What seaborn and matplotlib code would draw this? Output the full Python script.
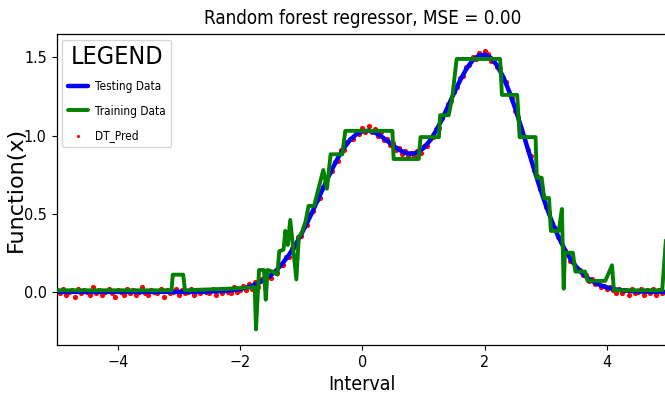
import numpy as np
import matplotlib
matplotlib.use("Agg")
import matplotlib.pyplot as plt
import seaborn as sns

# testing curve, sampled every 0.1 from -5 to 5
test_y = [0.0] * 25 + [
    0.002, 0.003, 0.005, 0.008, 0.012, 0.018, 0.027, 0.039, 0.056, 0.077,
    0.105, 0.141, 0.185, 0.237, 0.298, 0.368, 0.445, 0.528, 0.614, 0.699,
    0.782, 0.857, 0.922, 0.973, 1.008, 1.027, 1.031, 1.020, 0.997, 0.968,
    0.937, 0.909, 0.889, 0.883, 0.892, 0.920, 0.966, 1.028, 1.103, 1.188,
    1.274, 1.356, 1.427, 1.480, 1.512, 1.518, 1.497, 1.449, 1.376, 1.281,
    1.170, 1.048, 0.919, 0.791, 0.667, 0.552, 0.447, 0.355, 0.277, 0.211,
    0.158, 0.116, 0.083, 0.059, 0.041, 0.028, 0.018, 0.012, 0.008, 0.005,
    0.003, 0.002, 0.001, 0.001, 0.000, 0.000,
]
test_x = np.linspace(-5, 5, len(test_y))

# training prediction polyline (vertices)
train_x = [-5.0, -3.12, -3.10, -2.93, -2.90, -2.20, -1.76, -1.74, -1.69, -1.61,
           -1.58, -1.55, -1.47, -1.39, -1.36, -1.29, -1.26, -1.22, -1.18, -1.08,
           -1.04, -0.99, -0.93, -0.88, -0.79, -0.64, -0.58, -0.52, -0.33, -0.28,
           0.49, 0.51, 0.92, 0.95, 1.25, 1.27, 1.41, 1.47, 1.54, 2.25,
           2.28, 2.53, 2.57, 2.83, 2.85, 2.93, 2.97, 3.05, 3.08, 3.21,
           3.26, 3.29, 3.31, 3.44, 3.48, 3.64, 3.68, 3.97, 4.08, 4.11,
           4.90, 4.96]
train_y = [0.01, 0.01, 0.11, 0.11, 0.01, 0.02, 0.03, -0.24, 0.14, 0.14,
           -0.05, 0.14, 0.13, 0.11, 0.26, 0.27, 0.39, 0.30, 0.46, 0.08,
           0.35, 0.38, 0.45, 0.55, 0.55, 0.78, 0.66, 0.88, 0.88, 1.03,
           1.03, 0.85, 0.85, 0.99, 0.99, 1.13, 1.13, 1.25, 1.49, 1.49,
           1.26, 1.26, 0.99, 0.99, 0.73, 0.73, 0.60, 0.60, 0.39, 0.39,
           0.53, 0.02, 0.25, 0.25, 0.13, 0.13, 0.07, 0.07, 0.17, 0.01,
           0.01, 0.33]

# predicted points, every 0.05 from -5 to 5
pred_y = [
    0.01, -0.01, 0.02, -0.02, 0.00, 0.01, -0.03, 0.02, -0.01, 0.01,
    0.00, -0.02, 0.03, -0.01, 0.01, -0.02, 0.00, 0.02, -0.01, -0.03,
    0.01, 0.00, -0.02, 0.02, -0.01, 0.01, -0.02, 0.00, 0.03, -0.01,
    -0.02, 0.01, 0.00, -0.01, 0.02, -0.03, 0.01, -0.01, 0.00, 0.02,
    -0.02, 0.01, -0.01, 0.00, 0.02, -0.02, 0.01, -0.01, 0.01, 0.00,
    -0.01, 0.02, -0.02, 0.01, -0.01, 0.02, 0.00, -0.01, 0.03, 0.00,
    0.01, 0.04, 0.01, 0.05, 0.02, 0.06, 0.03, 0.08, 0.06, 0.10,
    0.09, 0.13, 0.12, 0.17, 0.17, 0.22, 0.22, 0.28, 0.29, 0.35,
    0.36, 0.42, 0.43, 0.50, 0.52, 0.59, 0.60, 0.67, 0.68, 0.76,
    0.77, 0.83, 0.84, 0.91, 0.91, 0.96, 0.98, 0.98, 1.03, 1.01,
    1.05, 1.02, 1.06, 1.02, 1.04, 1.00, 1.02, 0.97, 0.98, 0.94,
    0.95, 0.91, 0.92, 0.88, 0.90, 0.87, 0.89, 0.87, 0.90, 0.89,
    0.93, 0.93, 0.98, 0.99, 1.04, 1.05, 1.11, 1.14, 1.20, 1.22,
    1.28, 1.31, 1.37, 1.38, 1.44, 1.45, 1.50, 1.49, 1.53, 1.51,
    1.54, 1.52, 1.48, 1.49, 1.44, 1.43, 1.37, 1.34, 1.27, 1.24,
    1.16, 1.12, 1.04, 0.99, 0.91, 0.87, 0.78, 0.74, 0.66, 0.62,
    0.54, 0.51, 0.44, 0.41, 0.35, 0.32, 0.27, 0.25, 0.20, 0.19,
    0.15, 0.14, 0.11, 0.11, 0.07, 0.08, 0.05, 0.06, 0.03, 0.04,
    0.02, 0.03, 0.01, -0.01, 0.02, -0.01, 0.01, -0.02, 0.02, -0.01,
    0.00, 0.02, -0.02, 0.01, -0.01, 0.02, -0.02, 0.01, -0.01, 0.00,
    0.01,
]
pred_x = np.linspace(-5, 5, len(pred_y))

x_ticks = [-4, -2, 0, 2, 4]
y_ticks = [0.0, 0.5, 1.0, 1.5]

sns.set_style("ticks")
plt.rcParams["font.family"] = ["DejaVu Sans"]
plt.rcParams["font.stretch"] = "condensed"
plt.rcParams["text.color"] = "black"
plt.rcParams["axes.labelcolor"] = "black"

fig = plt.figure(figsize=(6.65, 4.04), dpi=100)
ax = fig.add_axes([0.085, 0.146, 0.92, 0.77])

sns.scatterplot(x=pred_x, y=pred_y, ax=ax, color="red", s=14, linewidth=0,
                marker="o", label="DT_Pred", zorder=1)
sns.lineplot(x=test_x, y=test_y, ax=ax, color="blue", linewidth=3.2,
             sort=False, estimator=None, label="Testing Data", zorder=2)
sns.lineplot(x=train_x, y=train_y, ax=ax, color="green", linewidth=2.8,
             sort=False, estimator=None, label="Training Data", zorder=3)

ax.set_xlim(-5, 5)
ax.set_ylim(-0.34, 1.65)
ax.set_xticks(x_ticks)
ax.set_yticks(y_ticks)
ax.tick_params(labelsize=11.5, length=3.5, width=0.8, colors="black")
for s in ax.spines.values():
    s.set_color("black")
    s.set_linewidth(0.9)

ax.set_title("Random forest regressor, MSE = 0.00", fontsize=13.5, pad=7,
             color="black")
ax.set_xlabel("Interval", fontsize=14)
ax.xaxis.set_label_coords(0.5, -0.095)
ax.set_ylabel("Function(x)", fontsize=16, fontstretch="normal")
ax.yaxis.set_label_coords(-0.05, 0.5)

handles, labels = ax.get_legend_handles_labels()
order = [labels.index(n) for n in ["Testing Data", "Training Data", "DT_Pred"]]
leg = ax.legend([handles[i] for i in order], [labels[i] for i in order],
                title="LEGEND", loc="upper left", fontsize=8.5,
                title_fontsize=18, frameon=True, handlelength=1.7,
                markerscale=0.6, borderpad=0.45, labelspacing=0.95,
                handletextpad=0.6)
leg.get_frame().set_edgecolor("#cccccc")

fig.savefig("out.png", dpi=100)
